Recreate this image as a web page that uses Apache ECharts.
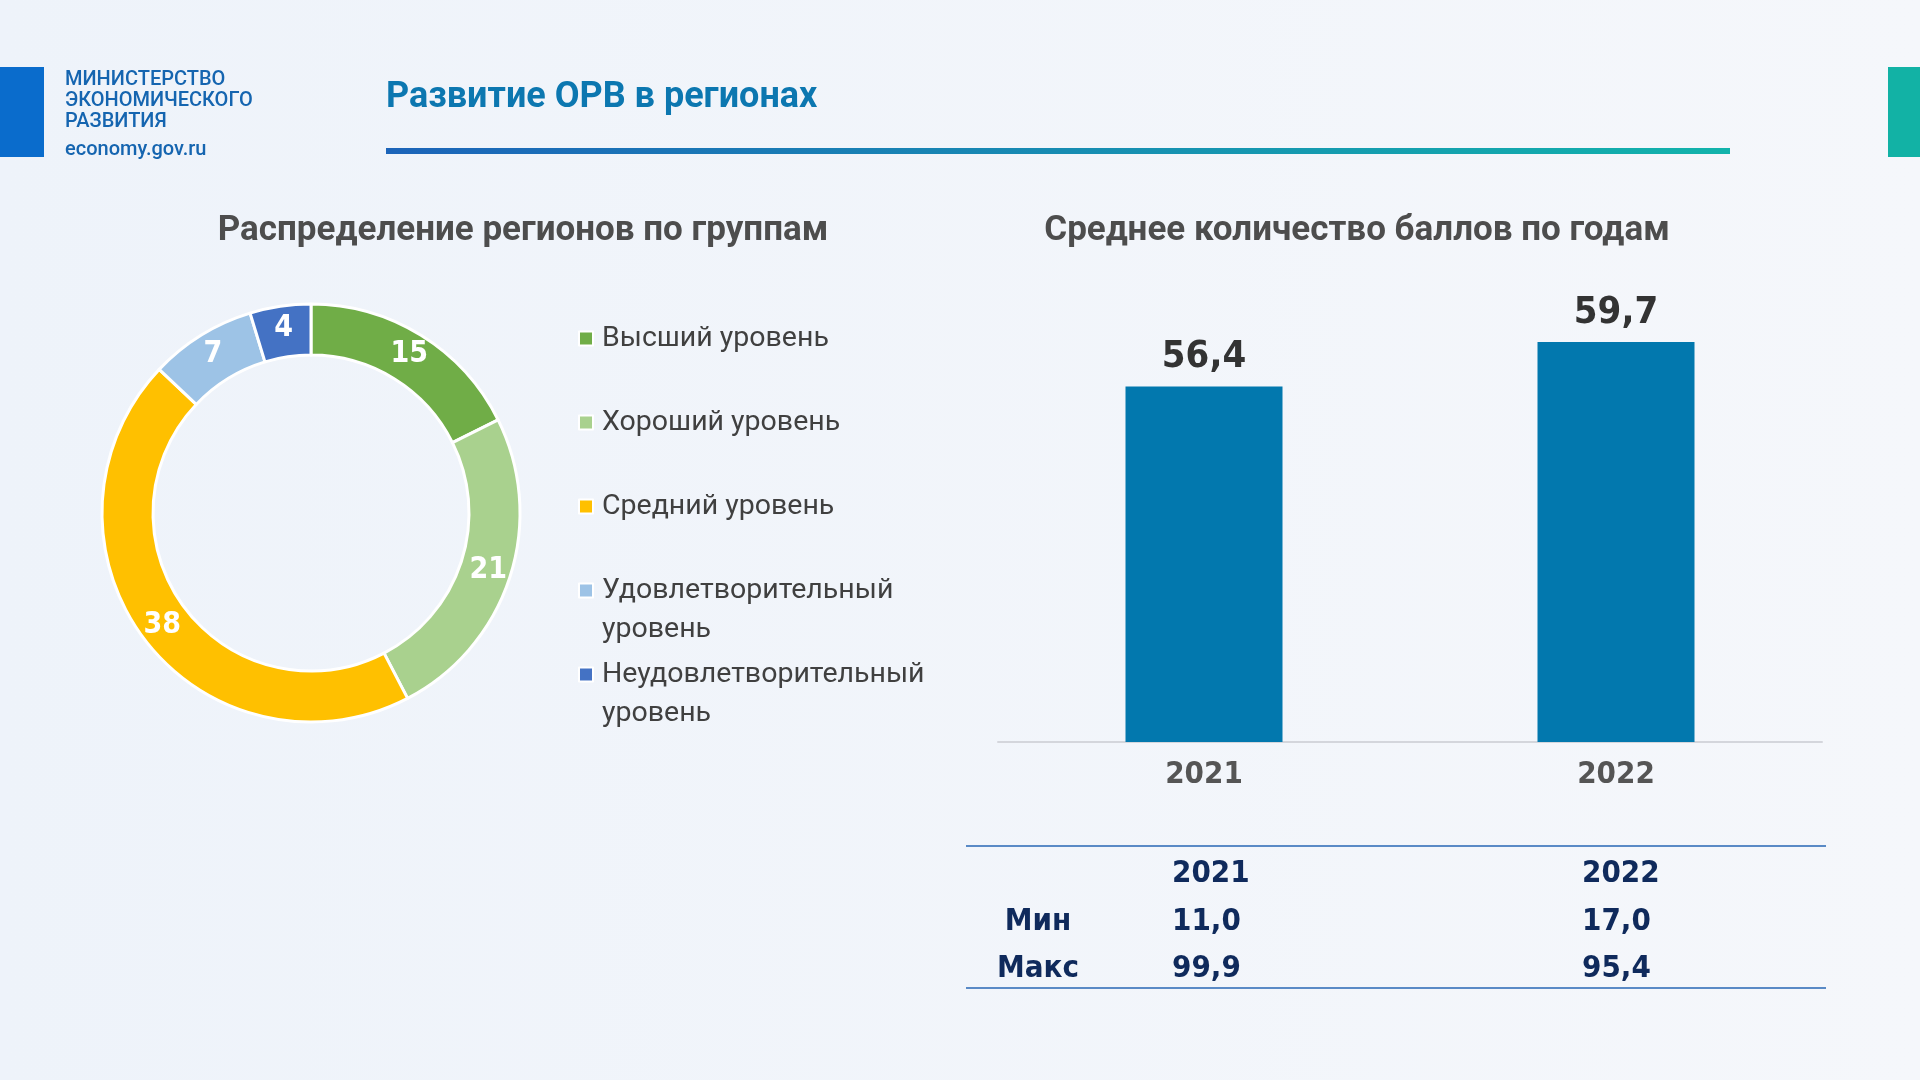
<!DOCTYPE html>
<html>
<head>
<meta charset="utf-8">
<title>Развитие ОРВ в регионах</title>
<script src="https://cdn.jsdelivr.net/npm/echarts@6/dist/echarts.min.js"></script>
<style>
  html, body { margin: 0; padding: 0; }
  #chart { width: 1920px; height: 1080px; }
</style>
</head>
<body>
<div id="chart"></div>
<script>
// данные
const categories = ['Высший уровень', 'Хороший уровень', 'Средний уровень', 'Удовлетворительный уровень', 'Неудовлетворительный уровень'];
const regionCounts = [15, 21, 38, 7, 4];
const groupColors = ['#70ad47', '#a9d18e', '#ffc000', '#9dc3e6', '#4472c4'];

const years = ['2021', '2022'];
const avgScores = [56.4, 59.7];

const rowLabels = ['Мин', 'Макс'];
const minScores = [11.0, 17.0];
const maxScores = [99.9, 95.4];

const NARROW = "'DejaVu Sans Condensed', 'Roboto', sans-serif";
const fmt = v => v.toFixed(1).replace('.', ',');

const chart = echarts.init(document.getElementById('chart'));

// таблица мин/макс под столбцами
const colX = [1172, 1582];
const tableRows = [minScores, maxScores];
const tableFont = 'bold 31px ' + NARROW;
const tableText = [];
years.forEach((y, i) => {
  tableText.push({ type: 'text', style: { text: y, x: colX[i], y: 874, align: 'left', verticalAlign: 'middle',
    font: tableFont, fill: '#0f2a5c' } });
});
rowLabels.forEach((lbl, r) => {
  const yy = 922 + r * 47;
  tableText.push({ type: 'text', style: { text: lbl, x: 1038, y: yy, align: 'center', verticalAlign: 'middle',
    font: tableFont, fill: '#0f2a5c' } });
  tableRows[r].forEach((v, i) => {
    tableText.push({ type: 'text', style: { text: fmt(v), x: colX[i], y: yy, align: 'left', verticalAlign: 'middle',
      font: tableFont, fill: '#0f2a5c' } });
  });
});

const option = {
  animation: false,
  backgroundColor: new echarts.graphic.LinearGradient(0, 0, 1, 0, [
    { offset: 0, color: '#eef3fa' },
    { offset: 1, color: '#f5f7fb' }
  ]),
  title: [
    { text: 'Развитие ОРВ в регионах', left: 386, top: 80, padding: 0,
      textStyle: { fontFamily: 'Roboto', fontWeight: 'bold', fontSize: 36, color: '#0c77b0' } },
    { text: 'Распределение регионов по группам', left: 523, top: 214, padding: 0, textAlign: 'center',
      textStyle: { fontFamily: 'Roboto', fontWeight: 'bold', fontSize: 35, color: '#4d4d4d' } },
    { text: 'Среднее количество баллов по годам', left: 1357, top: 214, padding: 0, textAlign: 'center',
      textStyle: { fontFamily: 'Roboto', fontWeight: 'bold', fontSize: 35, color: '#4d4d4d' } }
  ],
  legend: {
    orient: 'vertical',
    left: 578,
    top: 280,
    padding: 0,
    itemGap: -33,
    itemWidth: 14,
    itemHeight: 14,
    icon: 'rect',
    selectedMode: false,
    data: categories,
    formatter: name => name.length > 18 ? '\n' + name.replace(' ', '\n') : '\n' + name + '\n',
    textStyle: { fontFamily: 'Roboto', fontSize: 28.5, color: '#404040', lineHeight: 39, padding: [0, 0, 0, 4] }
  },
  grid: { left: 998, right: 98, top: 338, bottom: 338 },
  xAxis: {
    type: 'category',
    data: years,
    axisLine: { lineStyle: { color: '#d4d6dc', width: 2 } },
    axisTick: { show: false },
    axisLabel: { margin: 17, fontFamily: NARROW, fontWeight: 'bold', fontSize: 31, color: '#555555' }
  },
  yAxis: { type: 'value', min: 30, max: 60, show: false },
  series: [
    {
      type: 'pie',
      center: [311, 513],
      radius: [158, 209],
      startAngle: 90,
      clockwise: true,
      avoidLabelOverlap: false,
      silent: true,
      data: categories.map((c, i) => ({ name: c, value: regionCounts[i], itemStyle: { color: groupColors[i] } })),
      itemStyle: { borderColor: '#ffffff', borderWidth: 3 },
      label: { position: 'inside', formatter: '{c}', fontFamily: NARROW, fontWeight: 'bold', fontSize: 30,
        color: '#ffffff', padding: [12, 0, 0, 0] },
      labelLine: { show: false }
    },
    {
      type: 'bar',
      data: avgScores,
      barWidth: 157,
      silent: true,
      itemStyle: { color: '#0278ae' },
      label: { show: true, position: 'top', distance: 10, formatter: p => fmt(p.value),
        fontFamily: NARROW, fontWeight: 'bold', fontSize: 38, color: '#333333' }
    }
  ],
  graphic: [
    { type: 'rect', shape: { x: 0, y: 67, width: 44, height: 90 }, style: { fill: '#0a6ccc' } },
    { type: 'rect', shape: { x: 1888, y: 67, width: 32, height: 90 }, style: { fill: '#12b2a5' } },
    { type: 'rect', shape: { x: 386, y: 148, width: 1344, height: 6 },
      style: { fill: new echarts.graphic.LinearGradient(0, 0, 1, 0, [
        { offset: 0, color: '#1c64b9' }, { offset: 1, color: '#12b3ab' }]) } },
    { type: 'text', style: { text: 'МИНИСТЕРСТВО', x: 65, y: 80, verticalAlign: 'middle', font: '500 20px Roboto', fill: '#1565b0' } },
    { type: 'text', style: { text: 'ЭКОНОМИЧЕСКОГО', x: 65, y: 101, verticalAlign: 'middle', font: '500 20px Roboto', fill: '#1565b0' } },
    { type: 'text', style: { text: 'РАЗВИТИЯ', x: 65, y: 122, verticalAlign: 'middle', font: '500 20px Roboto', fill: '#1565b0' } },
    { type: 'text', style: { text: 'economy.gov.ru', x: 65, y: 150, verticalAlign: 'middle', font: '500 20px Roboto', fill: '#1565b0' } },
    { type: 'line', shape: { x1: 966, y1: 846, x2: 1826, y2: 846 }, style: { stroke: '#5a8ac6', lineWidth: 2 } },
    { type: 'line', shape: { x1: 966, y1: 988, x2: 1826, y2: 988 }, style: { stroke: '#5a8ac6', lineWidth: 2 } }
  ].concat(tableText)
};

chart.setOption(option);
</script>
</body>
</html>
